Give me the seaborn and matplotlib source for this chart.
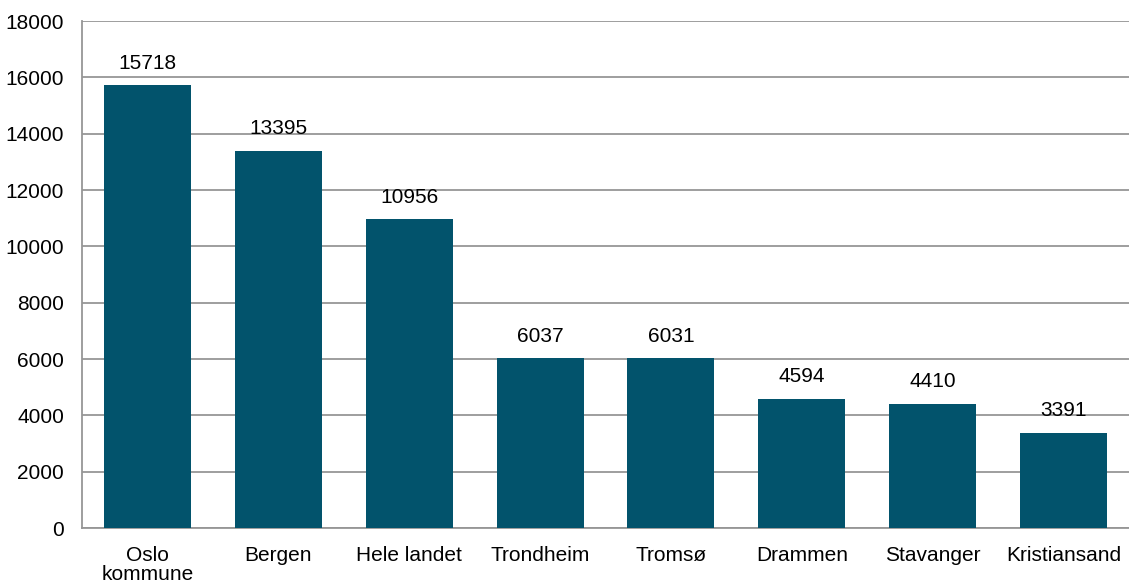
import pandas as pd
import seaborn as sns
import matplotlib.pyplot as plt
import numpy as np

# data
places = ["Oslo\nkommune", "Bergen", "Hele landet", "Trondheim", "Tromsø",
          "Drammen", "Stavanger", "Kristiansand"]
values = [15718, 13395, 10956, 6037, 6031, 4594, 4410, 3391]
yticks = [0, 2000, 4000, 6000, 8000, 10000, 12000, 14000, 16000, 18000]

BAR = "#02536C"
GRID = "#969696"
FONTSIZE = 15

sns.set_style("white")
plt.rcParams['font.family'] = ['Liberation Sans', 'DejaVu Sans']
plt.rcParams['text.color'] = 'black'

df = pd.DataFrame({"place": places, "value": values})

fig = plt.figure(figsize=(11.29, 5.87), dpi=100)
ax = fig.add_axes([0.0726, 0.1005, 0.9274, 0.8635])

sns.barplot(data=df, x="place", y="value", color=BAR, width=0.665,
            saturation=1, linewidth=0, ax=ax, zorder=3)

ax.set_xlim(-0.5, len(places) - 0.5)
ax.set_ylim(0, 18000)
ax.set_yticks(yticks)
ax.set_yticklabels([str(t) for t in yticks], fontsize=FONTSIZE, color="black")
ax.grid(axis="y", color=GRID, linewidth=1.3, zorder=0)
ax.set_axisbelow(True)

# category labels, ticks at category boundaries
ax.set_xticks(range(len(places)))
ax.set_xticklabels(places, fontsize=FONTSIZE, linespacing=1.0, color="black")
ax.tick_params(axis="x", which="major", length=0, pad=13)
ax.set_xticks([i - 0.5 for i in range(len(places) + 1)], minor=True)
ax.tick_params(axis="x", which="minor", length=5, width=1.3, color=GRID, direction="out")
ax.tick_params(axis="y", length=5, width=1.3, color=GRID, direction="out", pad=8)

ax.set_xlabel("")
ax.set_ylabel("")

for s in ["top", "right"]:
    ax.spines[s].set_visible(False)
for s in ["left", "bottom"]:
    ax.spines[s].set_color(GRID)
    ax.spines[s].set_linewidth(1.3)

for i, v in enumerate(values):
    ax.annotate(str(v), (i, v), xytext=(0, 9), textcoords="offset points",
                ha="center", va="bottom", fontsize=FONTSIZE, color="black")

fig.savefig("out.png", dpi=100)
